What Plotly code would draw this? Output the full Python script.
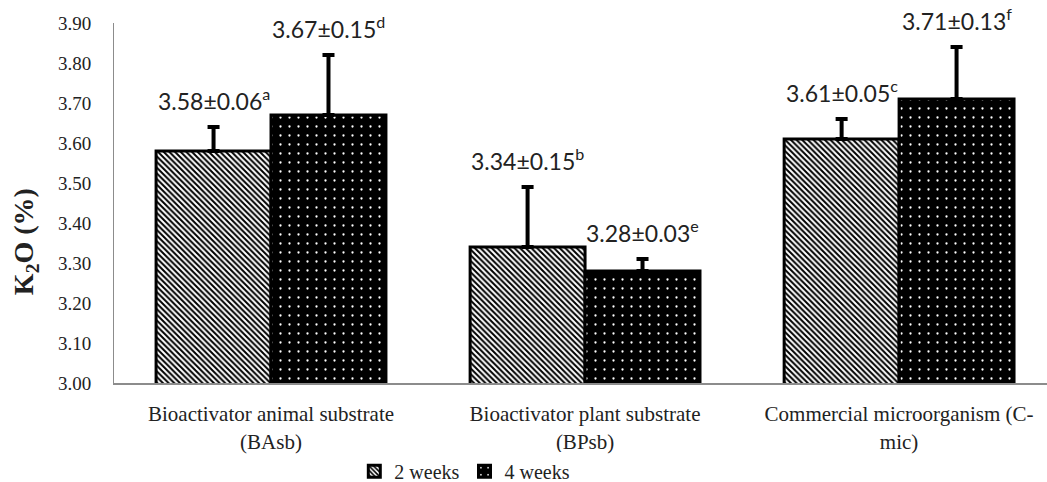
import plotly.graph_objects as go

# Categories and series values (K2O %, mean and standard deviation)
categories = [
    "Bioactivator animal substrate<br>(BAsb)",
    "Bioactivator plant substrate<br>(BPsb)",
    "Commercial microorganism (C-<br>mic)",
]
week2_mean = [3.58, 3.34, 3.61]
week2_sd = [0.06, 0.15, 0.05]
week2_letters = ["a", "b", "c"]
week4_mean = [3.67, 3.28, 3.71]
week4_sd = [0.15, 0.03, 0.13]
week4_letters = ["d", "e", "f"]
y_ticks = [3.00, 3.10, 3.20, 3.30, 3.40, 3.50, 3.60, 3.70, 3.80, 3.90]

positions = list(range(len(categories)))
bar_w = 0.366
off = bar_w / 2

SERIF = "Liberation Serif, Times New Roman, serif"
SANS = "Lato, Liberation Sans, sans-serif"

fig = go.Figure()

fig.add_trace(go.Bar(
    name="2 weeks",
    x=[p - off for p in positions],
    y=week2_mean,
    width=bar_w,
    base=0,
    marker=dict(
        color="white",
        line=dict(color="black", width=3),
        pattern=dict(shape="\\", fgcolor="black", bgcolor="white",
                     size=4, solidity=0.5, fillmode="replace"),
    ),
    error_y=dict(type="data", symmetric=False, array=week2_sd,
                 arrayminus=[0] * len(week2_sd), color="black",
                 thickness=4, width=6),
))

fig.add_trace(go.Bar(
    name="4 weeks",
    x=[p + off for p in positions],
    y=week4_mean,
    width=bar_w,
    base=0,
    marker=dict(
        color="black",
        line=dict(color="black", width=3),
        pattern=dict(shape=".", fgcolor="white", bgcolor="black",
                     size=9, solidity=0.05, fillmode="replace"),
    ),
    error_y=dict(type="data", symmetric=False, array=week4_sd,
                 arrayminus=[0] * len(week4_sd), color="black",
                 thickness=4, width=6),
))

annotations = []
for p, m, s, l in zip(positions, week2_mean, week2_sd, week2_letters):
    annotations.append(dict(
        x=p - off, y=m + s, xref="x", yref="y",
        text=f"{m:.2f}±{s:.2f}<sup>{l}</sup>", showarrow=False,
        yanchor="bottom", yshift=10,
        font=dict(family=SANS, size=23, color="#222222"),
    ))
for p, m, s, l in zip(positions, week4_mean, week4_sd, week4_letters):
    annotations.append(dict(
        x=p + off, y=m + s, xref="x", yref="y",
        text=f"{m:.2f}±{s:.2f}<sup>{l}</sup>", showarrow=False,
        yanchor="bottom", yshift=10,
        font=dict(family=SANS, size=23, color="#222222"),
    ))

# Y axis title
annotations.append(dict(
    x=-0.0954, y=0.394, xref="paper", yref="paper",
    text="<b>K<sub>2</sub>O (%)</b>", showarrow=False, textangle=-90,
    xanchor="center", yanchor="middle",
    font=dict(family=SERIF, size=28, color="#222222"),
))

fig.update_layout(
    width=1047, height=482,
    margin=dict(l=114, r=0, t=23, b=99, autoexpand=False),
    paper_bgcolor="white", plot_bgcolor="white",
    barmode="overlay",
    showlegend=True,
    legend=dict(orientation="h", x=0.376, xanchor="center",
                y=-0.245, yanchor="middle",
                font=dict(family=SERIF, size=20, color="#222222"),
                itemwidth=30),
    annotations=annotations,
    xaxis=dict(
        range=[-0.5, 2.471],
        tickmode="array", tickvals=positions, ticktext=categories,
        showline=True, linecolor="#8c8c8c", linewidth=2,
        showgrid=False, zeroline=False, ticks="",
        ticklabelstandoff=11, automargin=False,
        tickfont=dict(family=SERIF, size=21, color="#222222"),
    ),
    yaxis=dict(
        range=[3.0, 3.9],
        tickmode="array", tickvals=y_ticks,
        ticktext=[f"{v:.2f}" for v in y_ticks],
        showline=True, linecolor="#8c8c8c", linewidth=1,
        showgrid=False, zeroline=False, ticks="",
        ticklabelstandoff=18, automargin=False,
        tickfont=dict(family=SERIF, size=19, color="#222222"),
    ),
)

fig.write_html("out.html")
